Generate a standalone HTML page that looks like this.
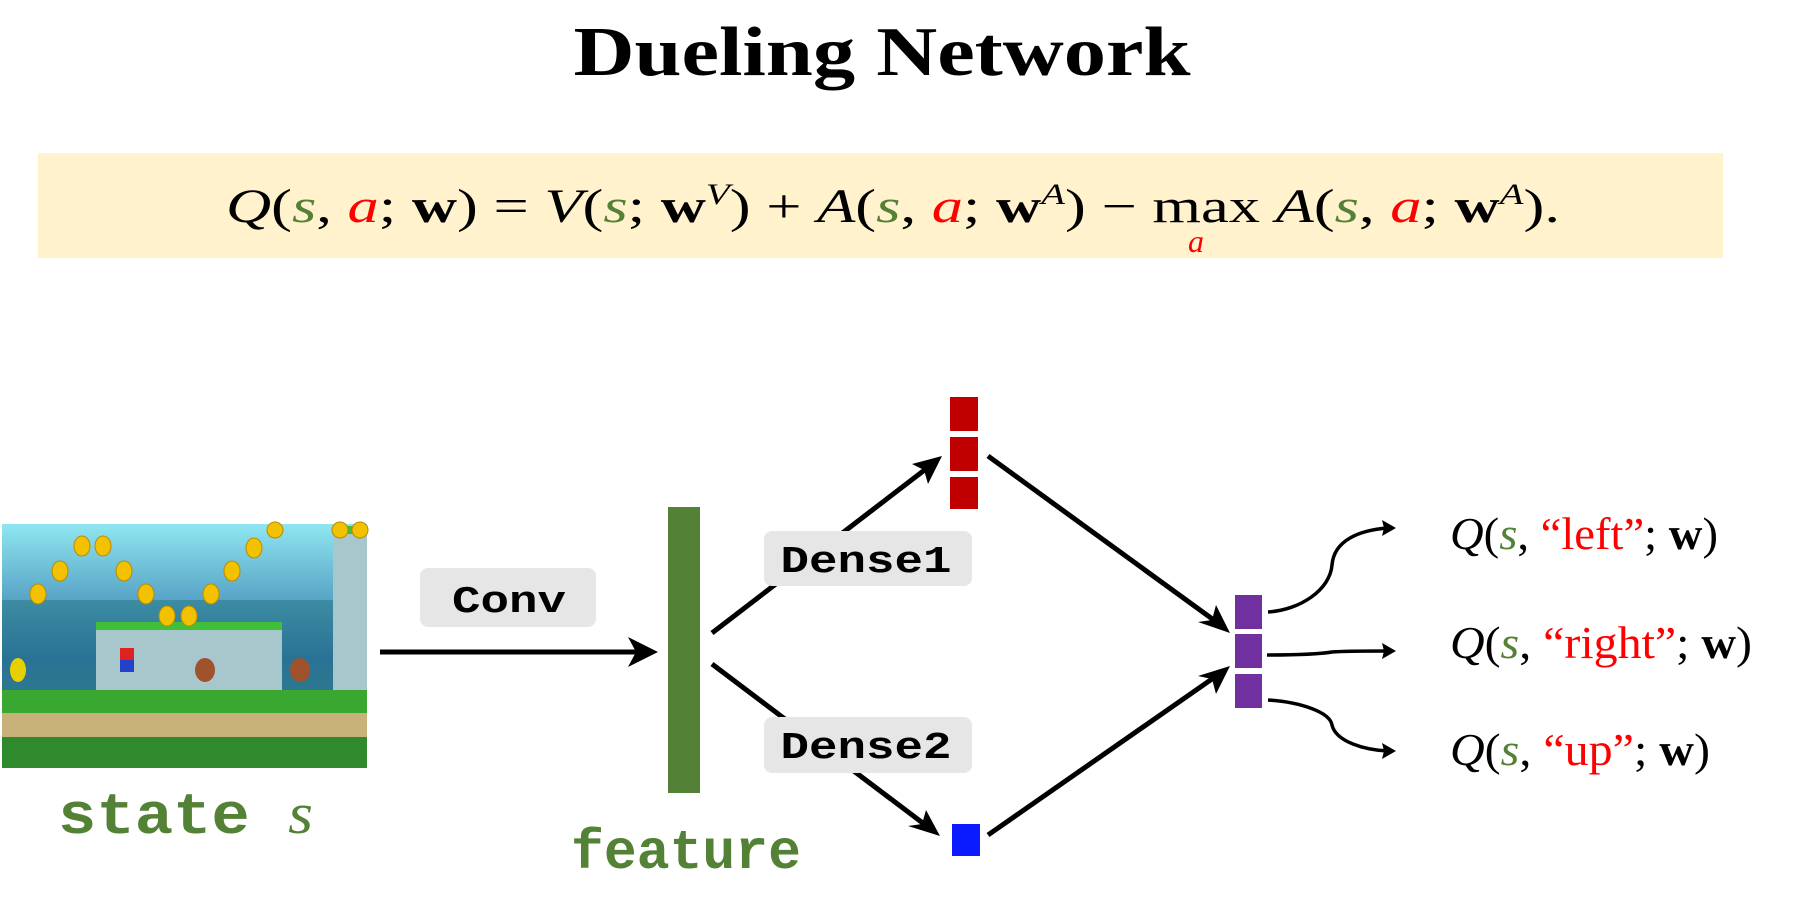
<!DOCTYPE html>
<html><head><meta charset="utf-8"><style>
html,body{margin:0;padding:0;background:#fff;width:1819px;height:908px;overflow:hidden}
svg{display:block}
</style></head><body>
<svg width="1819" height="908" viewBox="0 0 1819 908" xmlns="http://www.w3.org/2000/svg">
<defs>
<linearGradient id="sky" x1="0" y1="0" x2="0" y2="1">
<stop offset="0" stop-color="#8fe6f0"/><stop offset="0.3" stop-color="#5aa6c8"/><stop offset="0.55" stop-color="#2c62a6"/><stop offset="1" stop-color="#3d8f86"/>
</linearGradient>
</defs>
<text x="882" y="75" text-anchor="middle" font-family="Liberation Serif, serif" font-weight="bold" font-size="70" textLength="617" lengthAdjust="spacingAndGlyphs">Dueling Network</text>
<rect x="38" y="153" width="1685" height="105" fill="#fff2cc"/>
<text x="226" y="222" font-family="Liberation Serif, serif" font-size="48" textLength="1334" lengthAdjust="spacingAndGlyphs"><tspan font-style="italic">Q</tspan>(<tspan font-style="italic" fill="#538135">s</tspan>, <tspan font-style="italic" fill="#ff0000">a</tspan>; <tspan font-weight="bold">w</tspan>) = <tspan font-style="italic">V</tspan>(<tspan font-style="italic" fill="#538135">s</tspan>; <tspan font-weight="bold">w</tspan><tspan font-style="italic" font-size="30" dy="-18">V</tspan><tspan dy="18">) + </tspan><tspan font-style="italic">A</tspan>(<tspan font-style="italic" fill="#538135">s</tspan>, <tspan font-style="italic" fill="#ff0000">a</tspan>; <tspan font-weight="bold">w</tspan><tspan font-style="italic" font-size="30" dy="-18">A</tspan><tspan dy="18">) − max </tspan><tspan font-style="italic">A</tspan>(<tspan font-style="italic" fill="#538135">s</tspan>, <tspan font-style="italic" fill="#ff0000">a</tspan>; <tspan font-weight="bold">w</tspan><tspan font-style="italic" font-size="30" dy="-18">A</tspan><tspan dy="18">).</tspan></text>
<text x="1196" y="252" text-anchor="middle" font-family="Liberation Serif, serif" font-style="italic" font-size="32" fill="#ff0000">a</text>

<g>
<rect x="2" y="524" width="365" height="244" fill="url(#sky)"/>
<rect x="2" y="600" width="365" height="90" fill="#2a7d8a" opacity="0.6"/>
<rect x="96" y="625" width="186" height="68" fill="#a7c7cc"/>
<rect x="96" y="622" width="186" height="8" fill="#3fbf3a"/>
<rect x="333" y="530" width="34" height="160" fill="#a7c7cc"/>
<rect x="333" y="526" width="34" height="8" fill="#3fbf3a"/>
<rect x="2" y="690" width="365" height="23" fill="#3aa830"/>
<rect x="2" y="713" width="365" height="24" fill="#c9b27a"/>
<rect x="2" y="737" width="365" height="31" fill="#2f8a2e"/>
<g fill="#f2c200" stroke="#b98a00" stroke-width="1">
<ellipse cx="82" cy="546" rx="8" ry="10"/><ellipse cx="103" cy="546" rx="8" ry="10"/>
<ellipse cx="60" cy="571" rx="8" ry="10"/><ellipse cx="124" cy="571" rx="8" ry="10"/>
<ellipse cx="38" cy="594" rx="8" ry="10"/><ellipse cx="146" cy="594" rx="8" ry="10"/>
<ellipse cx="232" cy="571" rx="8" ry="10"/><ellipse cx="254" cy="548" rx="8" ry="10"/>
<ellipse cx="211" cy="594" rx="8" ry="10"/><ellipse cx="167" cy="616" rx="8" ry="10"/>
<ellipse cx="189" cy="616" rx="8" ry="10"/><ellipse cx="275" cy="530" rx="8" ry="8"/>
<ellipse cx="340" cy="530" rx="8" ry="8"/><ellipse cx="360" cy="530" rx="8" ry="8"/>
</g>
<rect x="120" y="648" width="14" height="22" fill="#d22"/>
<rect x="120" y="660" width="14" height="12" fill="#2442c8"/>
<ellipse cx="205" cy="670" rx="10" ry="12" fill="#a0522d"/>
<ellipse cx="300" cy="670" rx="10" ry="12" fill="#a0522d"/>
<ellipse cx="18" cy="670" rx="8" ry="12" fill="#e6d000"/>
</g>
<text x="58" y="833" font-family="Liberation Mono, monospace" font-weight="bold" font-size="58" fill="#538135" textLength="255" lengthAdjust="spacingAndGlyphs">state <tspan font-family="Liberation Serif, serif" font-style="italic" font-weight="normal">s</tspan></text>

<rect x="420" y="568" width="176" height="59" rx="8" fill="#e7e6e6"/>
<text x="509" y="612" text-anchor="middle" font-family="Liberation Mono, monospace" font-weight="bold" font-size="38" textLength="114" lengthAdjust="spacingAndGlyphs">Conv</text>
<line x1="380" y1="652" x2="650" y2="652" stroke="#000" stroke-width="5"/>
<polygon points="658,652 628,637 636,652 628,667" fill="#000"/>

<rect x="668" y="507" width="32" height="286" fill="#538135"/>
<text x="686" y="868" text-anchor="middle" font-family="Liberation Mono, monospace" font-weight="bold" font-size="56" fill="#538135" textLength="230" lengthAdjust="spacingAndGlyphs">feature</text>

<line x1="712" y1="633" x2="935" y2="462" stroke="#000" stroke-width="5"/>
<polygon points="942,456 912,464 924,470 928,484" fill="#000"/>
<line x1="712" y1="664" x2="932" y2="830" stroke="#000" stroke-width="5"/>
<polygon points="940,836 926,810 922,824 908,826" fill="#000"/>
<rect x="764" y="531" width="208" height="55" rx="8" fill="#e7e6e6"/>
<text x="866" y="572" text-anchor="middle" font-family="Liberation Mono, monospace" font-weight="bold" font-size="38" textLength="171" lengthAdjust="spacingAndGlyphs">Dense1</text>
<rect x="764" y="717" width="208" height="56" rx="8" fill="#e7e6e6"/>
<text x="866" y="758" text-anchor="middle" font-family="Liberation Mono, monospace" font-weight="bold" font-size="38" textLength="171" lengthAdjust="spacingAndGlyphs">Dense2</text>

<rect x="950" y="397" width="28" height="34" fill="#c00000"/>
<rect x="950" y="437" width="28" height="34" fill="#c00000"/>
<rect x="950" y="477" width="28" height="32" fill="#c00000"/>
<rect x="952" y="824" width="28" height="32" fill="#0a1cff"/>

<line x1="988" y1="456" x2="1222" y2="626" stroke="#000" stroke-width="5"/>
<polygon points="1230,633 1216,605 1212,620 1198,622" fill="#000"/>
<line x1="988" y1="835" x2="1222" y2="672" stroke="#000" stroke-width="5"/>
<polygon points="1230,666 1198,676 1212,679 1216,694" fill="#000"/>

<rect x="1235" y="595" width="27" height="34" fill="#7030a0"/>
<rect x="1235" y="634" width="27" height="34" fill="#7030a0"/>
<rect x="1235" y="674" width="27" height="34" fill="#7030a0"/>

<g fill="none" stroke="#000" stroke-width="3.5">
<path d="M1268,612 C1300,610 1330,590 1332,565 C1334,540 1360,530 1388,528"/>
<path d="M1267,655 C1300,655 1320,654 1332,652 C1345,651 1370,651 1388,651"/>
<path d="M1268,700 C1300,702 1330,712 1332,725 C1336,742 1365,750 1388,751"/>
</g>
<polygon points="1396,528 1382,520 1384,528 1382,536" fill="#000"/>
<polygon points="1396,651 1382,643 1384,651 1382,659" fill="#000"/>
<polygon points="1396,751 1382,743 1384,751 1382,759" fill="#000"/>

<g font-family="Liberation Serif, serif" font-size="46">
<text x="1450" y="549" textLength="268" lengthAdjust="spacingAndGlyphs"><tspan font-style="italic">Q</tspan>(<tspan font-style="italic" fill="#538135">s</tspan>, <tspan fill="#ff0000">“left”</tspan>; <tspan font-weight="bold">w</tspan>)</text>
<text x="1450" y="658" textLength="302" lengthAdjust="spacingAndGlyphs"><tspan font-style="italic">Q</tspan>(<tspan font-style="italic" fill="#538135">s</tspan>, <tspan fill="#ff0000">“right”</tspan>; <tspan font-weight="bold">w</tspan>)</text>
<text x="1450" y="765" textLength="260" lengthAdjust="spacingAndGlyphs"><tspan font-style="italic">Q</tspan>(<tspan font-style="italic" fill="#538135">s</tspan>, <tspan fill="#ff0000">“up”</tspan>; <tspan font-weight="bold">w</tspan>)</text>
</g>
</svg>
</body></html>
